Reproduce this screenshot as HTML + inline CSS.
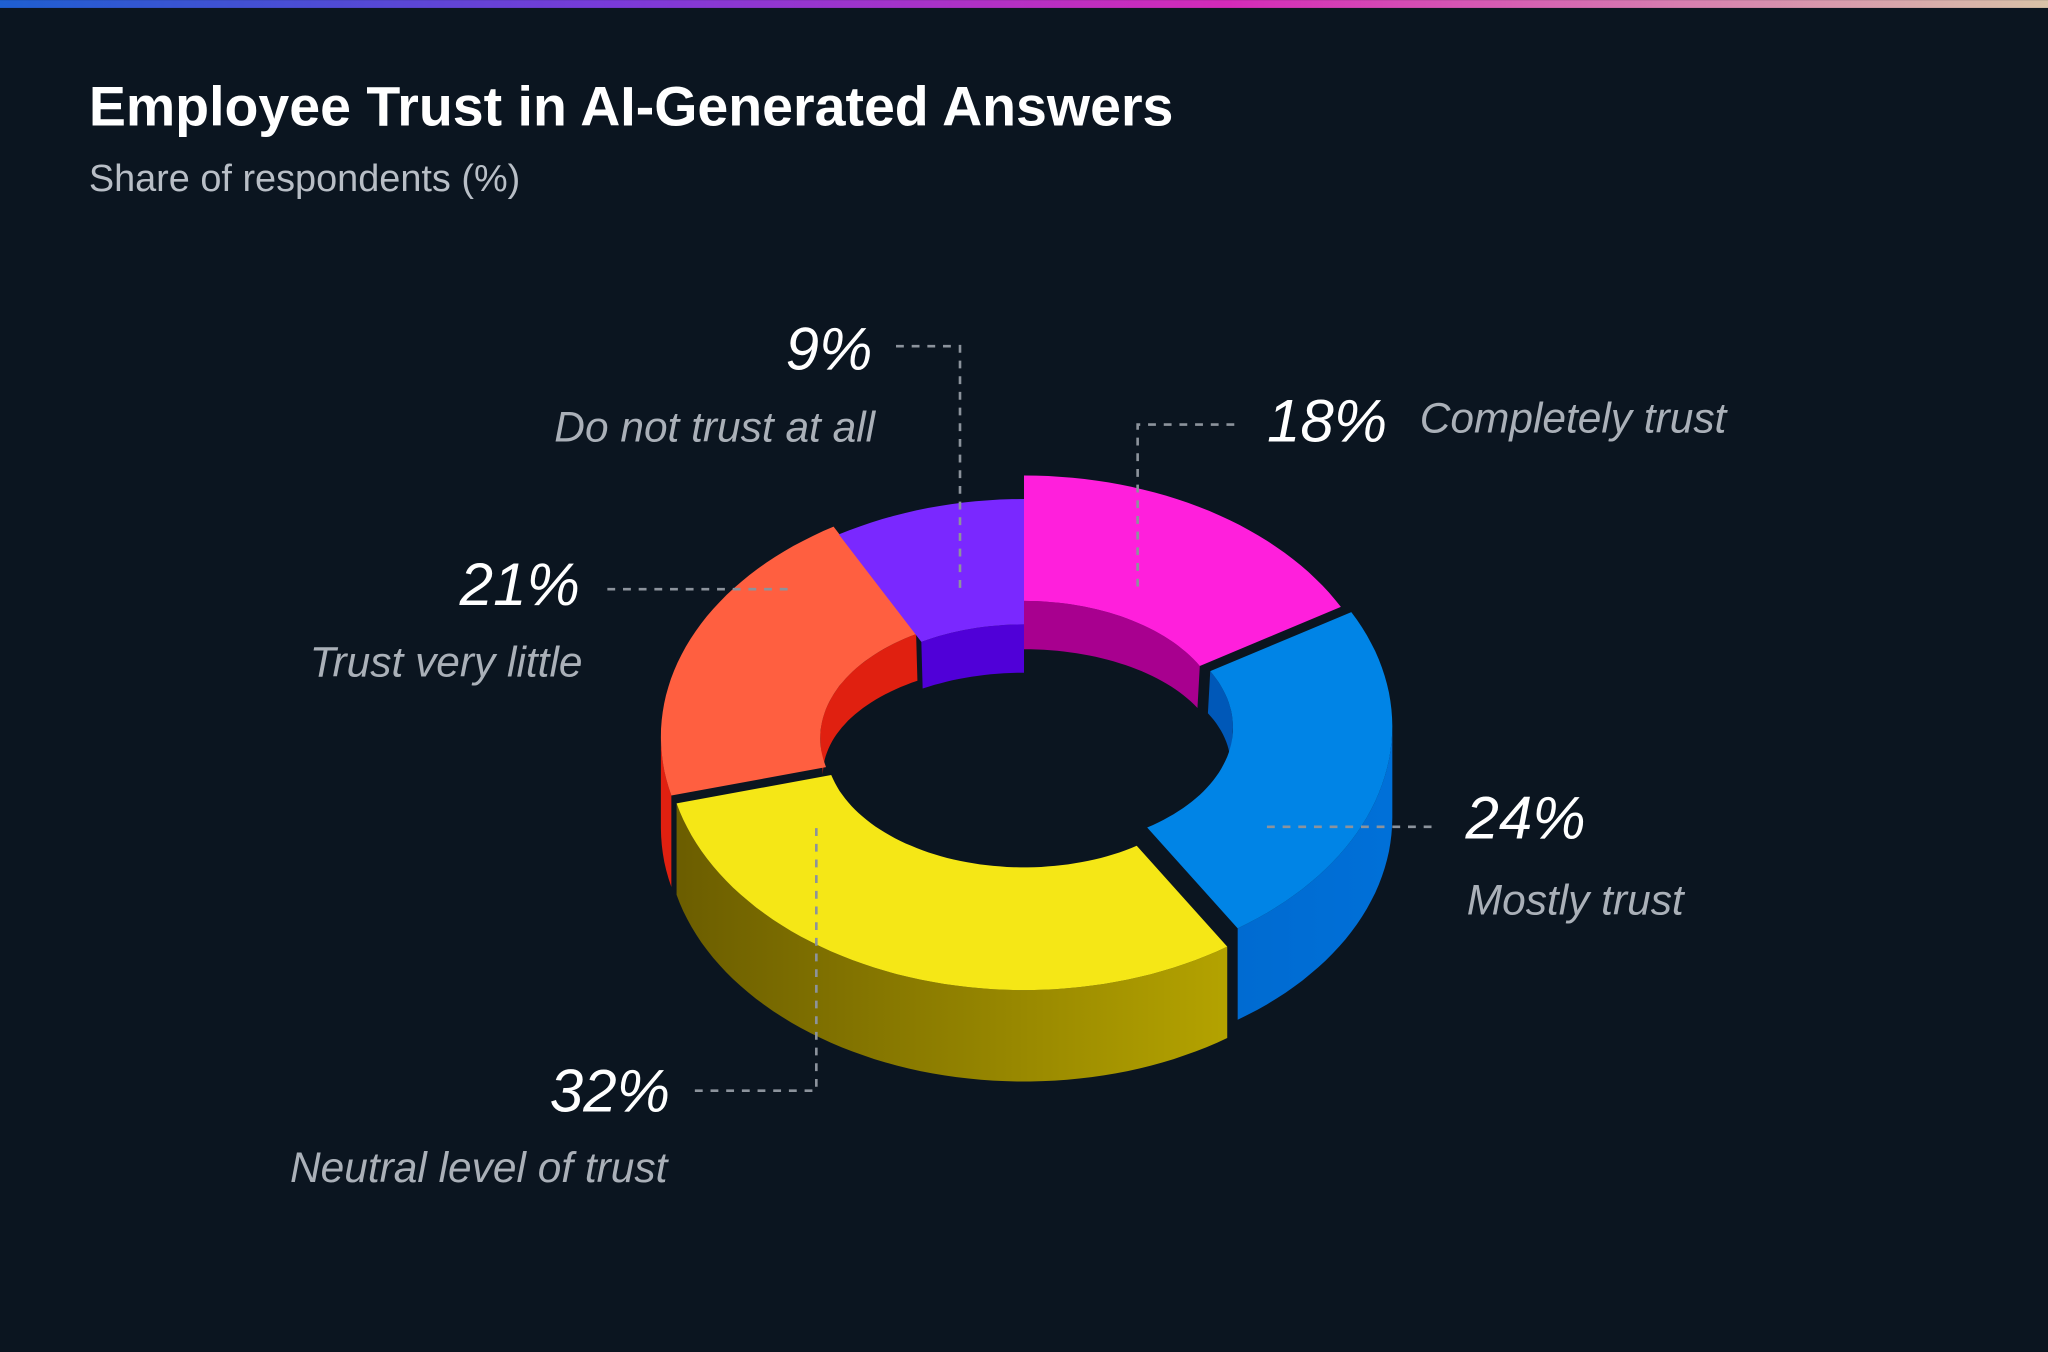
<!DOCTYPE html>
<html><head><meta charset="utf-8"><style>
html,body{margin:0;padding:0;background:#0b1520;}
svg{display:block}
</style></head><body>
<svg id="chart" width="2048" height="1352" viewBox="0 0 1568 1035" xmlns="http://www.w3.org/2000/svg" font-family="'Liberation Sans', sans-serif">
<defs>
<linearGradient id="topbar" x1="0" x2="1" y1="0" y2="0">
<stop offset="0" stop-color="#1e5fd0"/><stop offset="0.3" stop-color="#7a3ad8"/><stop offset="0.6" stop-color="#d42ab8"/><stop offset="1" stop-color="#d9c2a8"/></linearGradient>
</defs>
<rect width="1568" height="1035" fill="#0b1520"/>
<rect width="1568" height="6" fill="url(#topbar)"/>
<text x="68" y="96" font-size="42.5" font-weight="bold" fill="#ffffff">Employee Trust in AI-Generated Answers</text>
<text x="68" y="146" font-size="29" fill="#b8bec6">Share of respondents (%)</text>
<g id="walls-inner"></g><g id="walls-outer"></g><g id="tops"></g><g id="leaders"></g><g id="labels"></g>
</svg>
<script>
const categories = ["Completely trust","Mostly trust","Neutral level of trust","Trust very little","Do not trust at all"];
const values = [18,24,32,21,9];
const percentLabels = ["18%","24%","32%","21%","9%"];
const topColors = ["#ff1fdc","#0084e6","#f5e716","#ff5f40","#7a28ff"];
const wallDark = ["#a8008f","#0058b8","#6a5c00","#e02010","#5000d8"];
const wallLight = ["#d010b8","#0070d8","#c8b600","#ff3a20","#6a10ff"];
// layout (not data)
const explode = [[0,-18],[8,-14],[0,0],[-4,-6],[0,0]];
const labelLayout = [
 {px:970,py:338,pa:"start",cx:1087,cy:331,ca:"start",line:[[945,325],[871,325],[871,450]]},
 {px:1122,py:642,pa:"start",cx:1123,cy:700,ca:"start",line:[[970,633],[1100,633]]},
 {px:513,py:851,pa:"end",cx:511,cy:905,ca:"end",line:[[532,835],[625,835],[625,630]]},
 {px:444,py:463,pa:"end",cx:446,cy:518,ca:"end",line:[[465,451],[607,451]]},
 {px:668,py:283,pa:"end",cx:670,cy:338,ca:"end",line:[[686,265],[735,265],[735,450]]}
];
const CX=784, CYO=570, RXO=274, RYO=188, CYI=571, RXI=152, RYI=93, DEPTH=70, DEPTH_IN=19;
const NS="http://www.w3.org/2000/svg";
const total = values.reduce((a,b)=>a+b,0);
function pt(rx,ry,cx,cy,t){const r=t*Math.PI/180;return [cx+rx*Math.sin(r), cy-ry*Math.cos(r)];}
function arc(rx,ry,cx,cy,a0,a1,dy){const n=Math.max(2,Math.ceil(Math.abs(a1-a0)/2));const p=[];for(let i=0;i<=n;i++){const q=pt(rx,ry,cx,cy,a0+(a1-a0)*i/n);p.push([q[0],q[1]+dy]);}return p;}
function poly(p){return "M"+p.map(q=>q[0].toFixed(1)+","+q[1].toFixed(1)).join("L")+"Z";}
function mk(tag,attrs,parent){const e=document.createElementNS(NS,tag);for(const k in attrs)e.setAttribute(k,attrs[k]);document.getElementById(parent).appendChild(e);return e;}
const defs=document.querySelector("defs");
let a=0;
values.forEach((v,i)=>{
 const a0=a, a1=a+v/total*360; a=a1;
 const [ox,oy]=explode[i]; const cxo=CX+ox, cyo=CYO+oy, cyi=CYI+oy;
 const g=document.createElementNS(NS,"linearGradient");
 g.setAttribute("id","wg"+i);g.setAttribute("gradientUnits","userSpaceOnUse");
 g.setAttribute("x1",cxo-RXO);g.setAttribute("x2",cxo+RXO);g.setAttribute("y1",0);g.setAttribute("y2",0);
 g.innerHTML='<stop offset="0" stop-color="'+wallDark[i]+'"/><stop offset="1" stop-color="'+wallLight[i]+'"/>';
 defs.appendChild(g);
 [[270,450],[-90,90]].forEach(r=>{
  const s=Math.max(a0,r[0]), e=Math.min(a1,r[1]);
  if(e>s){const top=arc(RXI,RYI,cxo,cyi,s,e,0);const bot=arc(RXI-2,RYI-9,cxo,cyi+9,e,s,DEPTH_IN-9+9);
   const el=mk("path",{d:poly(top.concat(bot)),fill:wallDark[i]},"walls-inner");
   
   }
 });
 const s=Math.max(a0,90), e=Math.min(a1,270);
 if(e>s){const top=arc(RXO,RYO,cxo,cyo,s,e,0);const bot=arc(RXO,RYO,cxo,cyo,e,s,DEPTH);
  const el=mk("path",{d:poly(top.concat(bot)),fill:"url(#wg"+i+")"},"walls-outer");
  
  }
 const o=arc(RXO,RYO,cxo,cyo,a0,a1,0), inn=arc(RXI,RYI,cxo,cyi,a1,a0,0);
 const t=mk("path",{d:poly(o.concat(inn)),fill:topColors[i]},"tops");
 
 
 const L=labelLayout[i];
 const ln=mk("polyline",{points:L.line.map(q=>q.join(",")).join(" "),fill:"none",stroke:"#8c939c","stroke-width":2,"stroke-dasharray":"6 6"},"leaders");
 
 
 const p=mk("text",{x:L.px,y:L.py,"text-anchor":L.pa,"font-size":46,"font-style":"italic",fill:"#ffffff"},"labels");
 p.textContent=percentLabels[i];
 
 
 const c=mk("text",{x:L.cx,y:L.cy,"text-anchor":L.ca,"font-size":32.5,"font-style":"italic",fill:"#aab0b8"},"labels");
 c.textContent=categories[i];
 
 
});
</script>
</body></html>
